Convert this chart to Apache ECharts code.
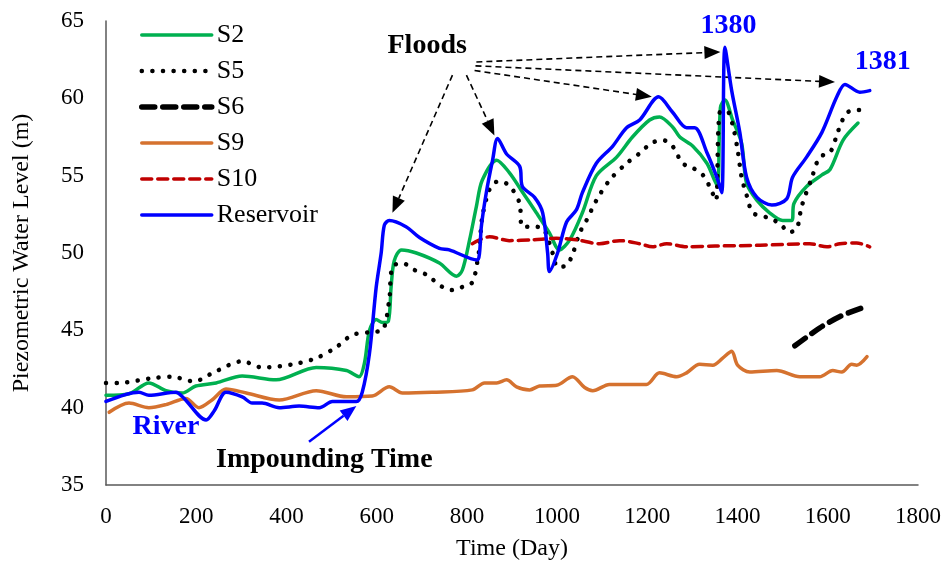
<!DOCTYPE html>
<html>
<head>
<meta charset="utf-8">
<script src="https://cdn.jsdelivr.net/npm/echarts@6/dist/echarts.min.js"></script>
<style>
  html, body { margin: 0; padding: 0; background: #fff; }
  #chart { width: 947px; height: 572px; }
</style>
</head>
<body>
<div id="chart"></div>
<script>
// Piezometric levels [day, level in m] for each observation well and the reservoir
const s2 = [[0,40.8],[51,40.9],[95,41.6],[133,41.1],[169,40.95],[199,41.4],[244,41.6],[302,42.05],[377,41.8],[466,42.6],[533,42.4],[561,42.0],[573,42.9],[584,45.0],[599,45.7],[613,45.5],[626,45.6],[632,47.8],[639,49.5],[655,50.2],[688,50.0],[739,49.35],[777,48.5],[790,48.9],[806,50.85],[821,53.0],[834,54.7],[866,56.0],[894,55.2],[923,53.95],[954,52.6],[983,51.3],[1005,50.2],[1028,50.85],[1056,52.6],[1087,55.0],[1132,56.2],[1167,57.5],[1205,58.6],[1227,58.8],[1256,58.15],[1272,57.5],[1301,56.9],[1332,55.8],[1349,54.7],[1356,54.3],[1362,59.4],[1372,59.9],[1389,58.6],[1409,57.1],[1420,54.5],[1443,53.4],[1471,52.6],[1500,52.1],[1520,52.1],[1525,53.2],[1553,54.3],[1587,55.05],[1605,55.4],[1634,57.3],[1667,58.4]];
const s5 = [[0,41.6],[29,41.6],[100,41.9],[146,42.0],[195,41.7],[240,42.3],[302,43.0],[346,42.6],[413,42.8],[466,43.2],[510,43.9],[546,44.7],[590,44.9],[613,45.0],[628,47.0],[635,49.1],[657,49.35],[684,48.9],[710,48.6],[746,47.8],[768,47.6],[790,47.8],[812,48.1],[823,49.4],[828,50.4],[834,52.3],[850,54.1],[866,54.6],[879,54.6],[901,54.1],[917,53.2],[923,51.7],[945,51.7],[968,51.6],[990,50.0],[1001,49.1],[1021,49.2],[1034,49.9],[1050,51.3],[1065,52.1],[1087,53.4],[1116,54.7],[1154,55.8],[1183,56.45],[1209,57.1],[1234,57.3],[1256,56.9],[1278,55.8],[1301,55.5],[1323,55.05],[1338,54.3],[1352,53.4],[1360,59.05],[1376,59.2],[1389,58.3],[1400,56.7],[1409,54.9],[1420,53.75],[1434,52.6],[1465,52.3],[1494,51.9],[1514,51.35],[1531,51.55],[1542,53.0],[1565,54.9],[1582,56.2],[1605,56.5],[1622,57.8],[1631,58.5],[1644,59.1],[1664,59.25],[1689,59.25]];
const s6 = [[1527,44.0],[1582,45.15],[1627,45.9],[1676,46.45]];
const s9 = [[7,39.7],[51,40.3],[95,40.0],[133,40.2],[177,40.6],[206,40.0],[235,40.5],[266,41.2],[311,40.95],[384,40.5],[466,41.1],[533,40.7],[590,40.75],[628,41.35],[657,40.95],[723,41.0],[812,41.15],[839,41.6],[866,41.6],[888,41.8],[910,41.35],[939,41.15],[961,41.4],[999,41.45],[1034,42.0],[1061,41.3],[1079,41.1],[1116,41.5],[1198,41.5],[1227,42.25],[1265,42.0],[1287,42.25],[1316,42.8],[1345,42.75],[1367,43.2],[1387,43.65],[1400,42.75],[1427,42.3],[1487,42.4],[1538,42.0],[1582,42.0],[1611,42.4],[1631,42.3],[1653,42.8],[1664,42.75],[1687,43.3]];
const s10 = [[812,50.6],[850,51.05],[894,50.8],[945,50.85],[999,50.95],[1043,50.85],[1094,50.6],[1138,50.8],[1183,50.6],[1212,50.4],[1243,50.6],[1287,50.4],[1350,50.45],[1450,50.5],[1560,50.6],[1598,50.4],[1627,50.6],[1664,50.65],[1693,50.4]];
const reservoir = [[0,40.4],[73,41.0],[95,40.8],[155,41.0],[173,40.6],[222,39.2],[240,39.8],[266,41.0],[302,40.7],[324,40.3],[346,40.3],[384,40.0],[428,40.1],[473,40.0],[502,40.4],[555,40.4],[568,41.0],[584,43.5],[599,47.8],[610,50.0],[617,51.8],[628,52.1],[665,51.7],[695,51.0],[739,50.3],[761,50.2],[823,49.55],[828,50.0],[832,51.7],[843,53.9],[857,56.0],[868,57.4],[888,56.4],[917,55.6],[923,54.3],[950,53.6],[968,52.6],[979,50.0],[983,48.8],[1001,50.0],[1021,52.0],[1043,52.8],[1056,53.9],[1087,55.8],[1123,56.9],[1154,58.1],[1183,58.6],[1225,60.1],[1256,59.1],[1287,58.1],[1305,58.1],[1332,56.5],[1354,54.9],[1365,53.9],[1372,63.3],[1387,60.5],[1405,57.8],[1420,54.9],[1443,53.6],[1476,53.1],[1509,53.5],[1522,54.9],[1553,56.2],[1587,57.8],[1620,60.1],[1638,60.9],[1671,60.4],[1693,60.5]];

const xTicks = { min: 0, max: 1800, step: 200 };
const yTicks = { min: 35, max: 65, step: 5 };

// Callout anchors in data units [day, level]
const floodsText = [712, 63.4];
const floodArrows = [
  [[768, 61.5], [635, 52.6]],
  [[799, 61.5], [861, 57.6]],
  [[817, 61.8], [1210, 60.1]],
  [[821, 62.35], [1362, 63.0]],
  [[819, 62.1], [1616, 61.05]]
];
const peak1380Text = [1380, 64.7];
const peak1381Text = [1722, 62.35];
const riverText = [133, 38.75];
const impoundText = [484, 36.6];
const impoundArrow = [[450, 37.8], [555, 40.1]];

const SERIF = '"Liberation Serif", "Times New Roman", serif';
const chart = echarts.init(document.getElementById('chart'), null, { renderer: 'canvas' });

function lineSeries(name, data, color, width, type) {
  return {
    name: name,
    type: 'line',
    data: data,
    symbol: 'none',
    smooth: 0.3,
    animation: false,
    lineStyle: { color: color, width: width, type: type, cap: 'round', join: 'round' },
    itemStyle: { color: color }
  };
}

chart.setOption({
  animation: false,
  grid: { left: 106, right: 29, top: 21, bottom: 87 },
  legend: {
    orient: 'vertical',
    left: 134,
    top: 17,
    itemWidth: 70,
    itemHeight: 14,
    itemGap: 10,
    itemStyle: { opacity: 0 },
    lineStyle: { width: 'inherit', type: 'inherit', cap: 'inherit', opacity: 1 },
    textStyle: { fontFamily: SERIF, fontSize: 26, color: '#000', lineHeight: 26 },
    data: ['S2', 'S5', 'S6', 'S9', 'S10', 'Reservoir']
  },
  xAxis: {
    type: 'value',
    min: xTicks.min, max: xTicks.max, interval: xTicks.step,
    name: 'Time (Day)',
    nameLocation: 'middle',
    nameGap: 52,
    nameTextStyle: { fontFamily: SERIF, fontSize: 24, color: '#000' },
    axisLine: { show: true, lineStyle: { color: '#595959', width: 1.5 } },
    axisTick: { show: false },
    splitLine: { show: false },
    axisLabel: { fontFamily: SERIF, fontSize: 23, color: '#000', margin: 20,
      formatter: function (v) { return String(v); } }
  },
  yAxis: {
    type: 'value',
    min: yTicks.min, max: yTicks.max, interval: yTicks.step,
    name: 'Piezometric Water Level (m)',
    nameLocation: 'middle',
    nameGap: 72,
    nameTextStyle: { fontFamily: SERIF, fontSize: 24, color: '#000' },
    axisLine: { show: true, lineStyle: { color: '#595959', width: 1.5 } },
    axisTick: { show: false },
    splitLine: { show: false },
    axisLabel: { fontFamily: SERIF, fontSize: 23, color: '#000', margin: 22 }
  },
  series: [
    lineSeries('S2', s2, '#00B050', 3.5, 'solid'),
    lineSeries('S5', s5, '#000000', 4.5, [0.1, 10.5]),
    lineSeries('S6', s6, '#000000', 5.5, [13, 8]),
    lineSeries('S9', s9, '#D5722F', 3.5, 'solid'),
    lineSeries('S10', s10, '#C00000', 3.5, [10, 6]),
    lineSeries('Reservoir', reservoir, '#0000FF', 3.5, 'solid')
  ]
});

// Annotation layer: callout texts and arrows placed in data coordinates
function toPx(p) { return chart.convertToPixel({ gridIndex: 0 }, p); }

function arrowShapes(from, to, color, dash, width, headLen, headW) {
  const a = toPx(from), b = toPx(to);
  const ang = Math.atan2(b[1] - a[1], b[0] - a[0]);
  const base = [b[0] - headLen * Math.cos(ang), b[1] - headLen * Math.sin(ang)];
  const nx = -Math.sin(ang) * headW / 2, ny = Math.cos(ang) * headW / 2;
  return [
    { type: 'line', silent: true,
      shape: { x1: a[0], y1: a[1], x2: base[0], y2: base[1] },
      style: { stroke: color, lineWidth: width, lineDash: dash } },
    { type: 'polygon', silent: true,
      shape: { points: [b, [base[0] + nx, base[1] + ny], [base[0] - nx, base[1] - ny]] },
      style: { fill: color } }
  ];
}

function label(text, at, color) {
  const p = toPx(at);
  return { type: 'text', silent: true, x: p[0], y: p[1],
    style: { text: text, font: 'bold 28px ' + SERIF, fill: color, align: 'center', verticalAlign: 'middle' } };
}

let elements = [];
floodArrows.forEach(function (ar) {
  elements = elements.concat(arrowShapes(ar[0], ar[1], '#000', [6, 4], 1.6, 16, 13));
});
elements = elements.concat(arrowShapes(impoundArrow[0], impoundArrow[1], '#0000FF', null, 2.5, 16, 13));
elements.push(label('Floods', floodsText, '#000'));
elements.push(label('1380', peak1380Text, '#0000FF'));
elements.push(label('1381', peak1381Text, '#0000FF'));
elements.push(label('River', riverText, '#0000FF'));
elements.push(label('Impounding Time', impoundText, '#000'));

chart.setOption({ graphic: { elements: elements } });
</script>
</body>
</html>
